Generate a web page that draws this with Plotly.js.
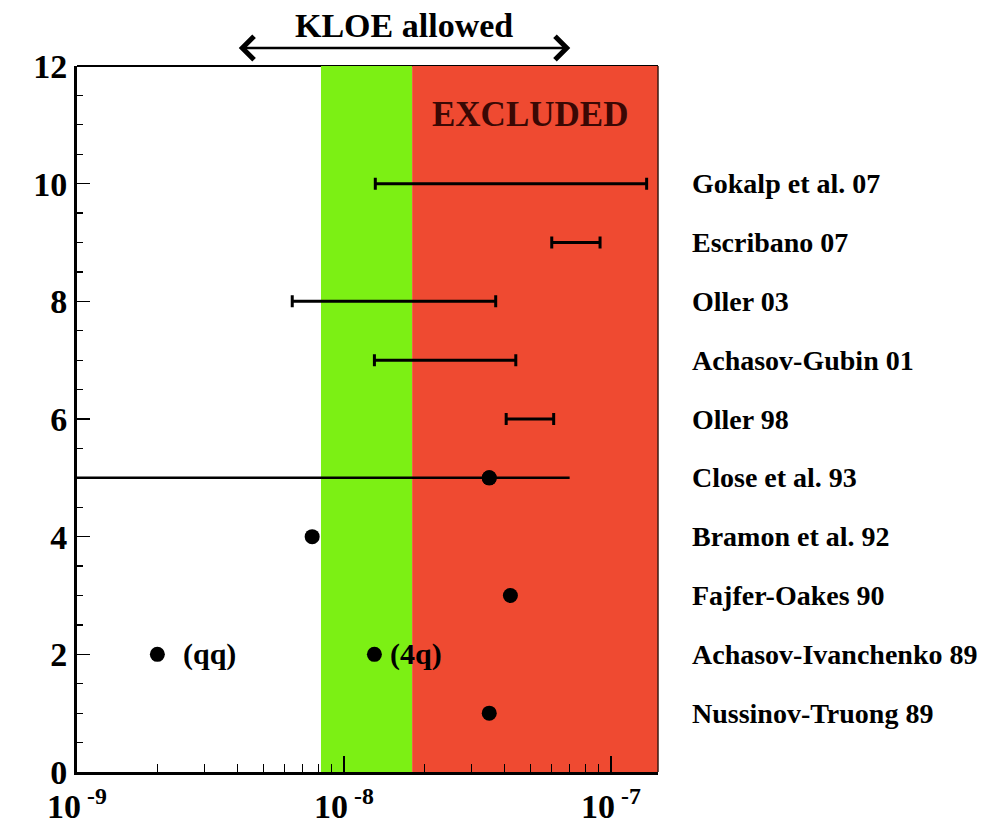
<!DOCTYPE html>
<html>
<head>
<meta charset="utf-8">
<script src="https://cdn.plot.ly/plotly-3.0.1.min.js"></script>
<style>
  html, body { margin: 0; padding: 0; background: #ffffff; }
  #chart { width: 1007px; height: 829px; }
</style>
</head>
<body>
<div id="chart"></div>
<script>
// Theoretical predictions, one row per reference (row 10 at top)
const studies = ['Gokalp et al. 07', 'Escribano 07', 'Oller 03', 'Achasov-Gubin 01', 'Oller 98',
                 'Close et al. 93', 'Bramon et al. 92', 'Fajfer-Oakes 90', 'Achasov-Ivanchenko 89', 'Nussinov-Truong 89'];
const studyRows = [10, 9, 8, 7, 6, 5, 4, 3, 2, 1];

// Predictions given as an interval only
const rangeRows = [10, 9, 8, 7, 6];
const rangeLow  = [1.31e-8, 6.0e-8, 6.4e-9, 1.30e-8, 4.05e-8];
const rangeHigh = [1.36e-7, 9.1e-8, 3.7e-8, 4.4e-8, 6.1e-8];

// Predictions given as a single value
const pointRows   = [5, 4, 3, 2, 2, 1];
const pointValues = [3.5e-8, 7.6e-9, 4.2e-8, 2.0e-9, 1.3e-8, 3.5e-8];

// Close et al. 93: central value with an interval open towards small values
const closeRow = 5;
const closeValue = 3.5e-8;
const closeLow = 1.0e-10;
const closeHigh = 7.0e-8;

// Quark-content labels for Achasov-Ivanchenko 89
const quarkLabels = ['(qq)', '(4q)'];
const quarkValues = [2.0e-9, 1.3e-8];
const quarkRow = 2;

// KLOE allowed band and excluded region
const kloeBand = [8.2e-9, 1.8e-8];
const excludedBand = [1.8e-8, 1.5e-7];

// Axis ranges and tick labels
const xRange = [1e-9, 1.5e-7];
const yRange = [0, 12];
const xTickVals = [1e-9, 1e-8, 1e-7];
const xTickText = ['10<sup> -9</sup>', '10<sup> -8</sup>', '10<sup> -7</sup>'];

const SERIF = '"Liberation Serif", "Times New Roman", serif';

function bandTrace(lo, hi, color) {
  return {
    type: 'scatter', mode: 'lines',
    x: [lo, hi, hi, lo, lo],
    y: [yRange[0], yRange[0], yRange[1], yRange[1], yRange[0]],
    fill: 'toself', fillcolor: color,
    line: { width: 0, color: color },
    hoverinfo: 'skip', showlegend: false
  };
}

const traces = [
  bandTrace(kloeBand[0], kloeBand[1], '#7cf014'),
  bandTrace(excludedBand[0], excludedBand[1], '#ef4a31'),
  // interval predictions: bar from the low end to the high end
  {
    type: 'scatter', mode: 'markers',
    x: rangeLow, y: rangeRows,
    marker: { size: 1, color: 'rgba(0,0,0,0)' },
    error_x: {
      type: 'data', symmetric: false,
      array: rangeHigh.map((h, i) => h - rangeLow[i]),
      arrayminus: rangeLow.map(() => 0),
      color: '#000000', thickness: 3, width: 6
    },
    hoverinfo: 'skip', showlegend: false
  },
  // Close et al. 93
  {
    type: 'scatter', mode: 'markers',
    x: [closeValue], y: [closeRow],
    marker: { size: 15, color: '#000000' },
    error_x: {
      type: 'data', symmetric: false,
      array: [closeHigh - closeValue],
      arrayminus: [closeValue - closeLow],
      color: '#000000', thickness: 2.5, width: 0
    },
    hoverinfo: 'skip', showlegend: false
  },
  // single-value predictions
  {
    type: 'scatter', mode: 'markers',
    x: pointValues, y: pointRows,
    marker: { size: 15, color: '#000000' },
    hoverinfo: 'skip', showlegend: false
  }
];

const annotations = studies.map((name, i) => ({
  text: name, xref: 'paper', yref: 'y', x: 1, y: studyRows[i],
  xanchor: 'left', yanchor: 'middle', xshift: 32, showarrow: false,
  font: { family: SERIF, size: 28, color: '#000000', weight: 'bold' }
}));

quarkLabels.forEach((t, i) => {
  annotations.push({
    text: t, xref: 'x', yref: 'y', x: Math.log10(quarkValues[i]), y: quarkRow,
    xanchor: 'left', yanchor: 'middle', xshift: i === 0 ? 24 : 14, showarrow: false,
    font: { family: SERIF, size: 30, color: '#000000', weight: 'bold' }
  });
});

annotations.push({
  text: 'EXCLUDED', xref: 'paper', yref: 'y', x: 0.78, y: 11.17,
  xanchor: 'center', yanchor: 'middle', showarrow: false,
  font: { family: SERIF, size: 35, color: '#3a0804', weight: 'bold' }
});

annotations.push({
  text: 'KLOE allowed', xref: 'paper', yref: 'paper', x: 0.563, y: 1.058,
  xanchor: 'center', yanchor: 'middle', showarrow: false,
  font: { family: SERIF, size: 34, color: '#000000', weight: 'bold' }
});

// double-headed arrow under the KLOE label
annotations.push({
  text: '', xref: 'paper', yref: 'paper', x: 0.849, y: 1.0255,
  axref: 'pixel', ayref: 'pixel', ax: -333, ay: 0,
  showarrow: true, arrowside: 'end+start', arrowhead: 4, startarrowhead: 4,
  arrowsize: 1.8, startarrowsize: 1.8, arrowwidth: 2.5, arrowcolor: '#000000'
});

const layout = {
  width: 1007, height: 829,
  margin: { l: 77, r: 349, t: 66, b: 57 },
  paper_bgcolor: '#ffffff', plot_bgcolor: '#ffffff',
  showlegend: false,
  xaxis: {
    type: 'log', range: xRange.map(Math.log10),
    tickmode: 'array', tickvals: xTickVals, ticktext: xTickText,
    ticks: 'inside', ticklen: 16, tickwidth: 1.5, tickcolor: '#000000',
    ticklabelstandoff: 2,
    minor: { dtick: 'D1', ticks: 'inside', ticklen: 8, tickwidth: 1.2, tickcolor: '#000000', showgrid: false },
    showline: true, linewidth: 3, linecolor: '#000000',
    showgrid: false, zeroline: false,
    tickfont: { family: SERIF, size: 34, color: '#000000', weight: 'bold' }
  },
  yaxis: {
    range: yRange, dtick: 2, tick0: 0,
    ticks: 'inside', ticklen: 13, tickwidth: 1.5, tickcolor: '#000000',
    minor: { dtick: 0.5, ticks: 'inside', ticklen: 6, tickwidth: 1.2, tickcolor: '#000000', showgrid: false },
    showline: true, linewidth: 3, linecolor: '#000000',
    showgrid: false, zeroline: false,
    tickfont: { family: SERIF, size: 34, color: '#000000', weight: 'bold' }
  },
  shapes: [
    // frame: top edge sits under the coloured bands, right edge on top
    { type: 'line', xref: 'paper', yref: 'paper', x0: 0, x1: 1, y0: 1, y1: 1,
      line: { color: '#000000', width: 2 }, layer: 'below' },
    { type: 'line', xref: 'paper', yref: 'paper', x0: 1, x1: 1, y0: 0, y1: 1,
      line: { color: '#3a1a12', width: 1.5 }, layer: 'above' }
  ],
  annotations: annotations
};

Plotly.newPlot('chart', traces, layout, { displayModeBar: false, staticPlot: true });
</script>
</body>
</html>
